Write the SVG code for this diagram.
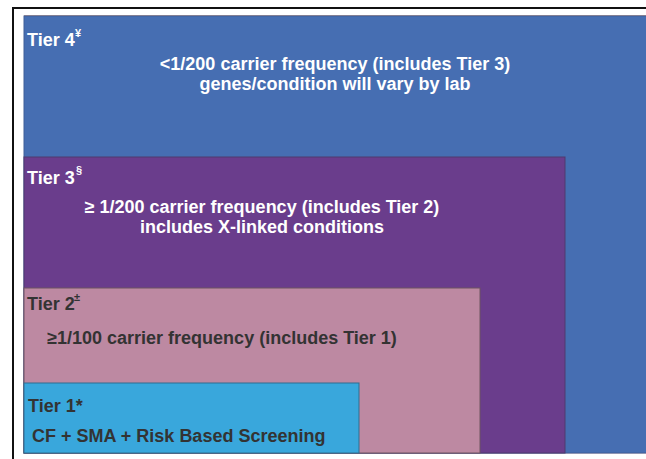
<svg xmlns="http://www.w3.org/2000/svg" width="646" height="459" viewBox="0 0 646 459">
  <style>
    .lbl { font-family: "Liberation Sans", Arial, sans-serif; font-weight: bold; font-size: 18px; }
    .sup { font-family: "Liberation Sans", Arial, sans-serif; font-weight: bold; font-size: 11px; }
    .lt { fill: #ffffff; }
    .dk { fill: #333333; }
    .box { stroke-width: 1; }
  </style>
  <rect width="646" height="459" fill="#ffffff"/>
  <!-- outer frame -->
  <line x1="13" y1="8" x2="646" y2="8" stroke="#111" stroke-width="2"/>
  <line x1="13" y1="7" x2="13" y2="459" stroke="#111" stroke-width="2"/>
  <line x1="24" y1="15.5" x2="646" y2="15.5" stroke="#c9a08e" stroke-width="1"/>
  <line x1="24" y1="453.5" x2="646" y2="453.5" stroke="#e0cfcf" stroke-width="1"/>

  <g id="tier4">
    <rect class="box" x="24" y="16" width="630" height="437" fill="#466eb2" stroke="#3f5f98"/>
    <text class="lbl lt" x="27" y="46">Tier 4</text>
    <text class="sup lt" x="75" y="37">¥</text>
    <text class="lbl lt" x="335" y="70" text-anchor="middle">&lt;1/200 carrier frequency (includes Tier 3)</text>
    <text class="lbl lt" x="335" y="90" text-anchor="middle">genes/condition will vary by lab</text>
  </g>

  <g id="tier3">
    <rect class="box" x="24" y="157" width="541" height="296" fill="#6a3d8c" stroke="#4e3a6e"/>
    <text class="lbl lt" x="27" y="184">Tier 3</text>
    <text class="sup lt" x="76" y="174">§</text>
    <text class="lbl lt" x="262" y="213" text-anchor="middle">≥ 1/200 carrier frequency (includes Tier 2)</text>
    <text class="lbl lt" x="262" y="233" text-anchor="middle">includes X-linked conditions</text>
  </g>

  <g id="tier2">
    <rect class="box" x="24" y="288" width="456" height="165" fill="#bd89a2" stroke="#6d5560"/>
    <text class="lbl dk" x="27" y="310">Tier 2</text>
    <text class="sup dk" x="74" y="301">±</text>
    <text class="lbl dk" x="222" y="344" text-anchor="middle">≥1/100 carrier frequency (includes Tier 1)</text>
  </g>

  <g id="tier1">
    <rect class="box" x="24" y="383" width="335" height="70" fill="#39a7dc" stroke="#2f6f91"/>
    <text class="lbl dk" x="28" y="412">Tier 1*</text>
    <text class="lbl dk" x="32" y="442">CF + SMA + Risk Based Screening</text>
  </g>
</svg>
